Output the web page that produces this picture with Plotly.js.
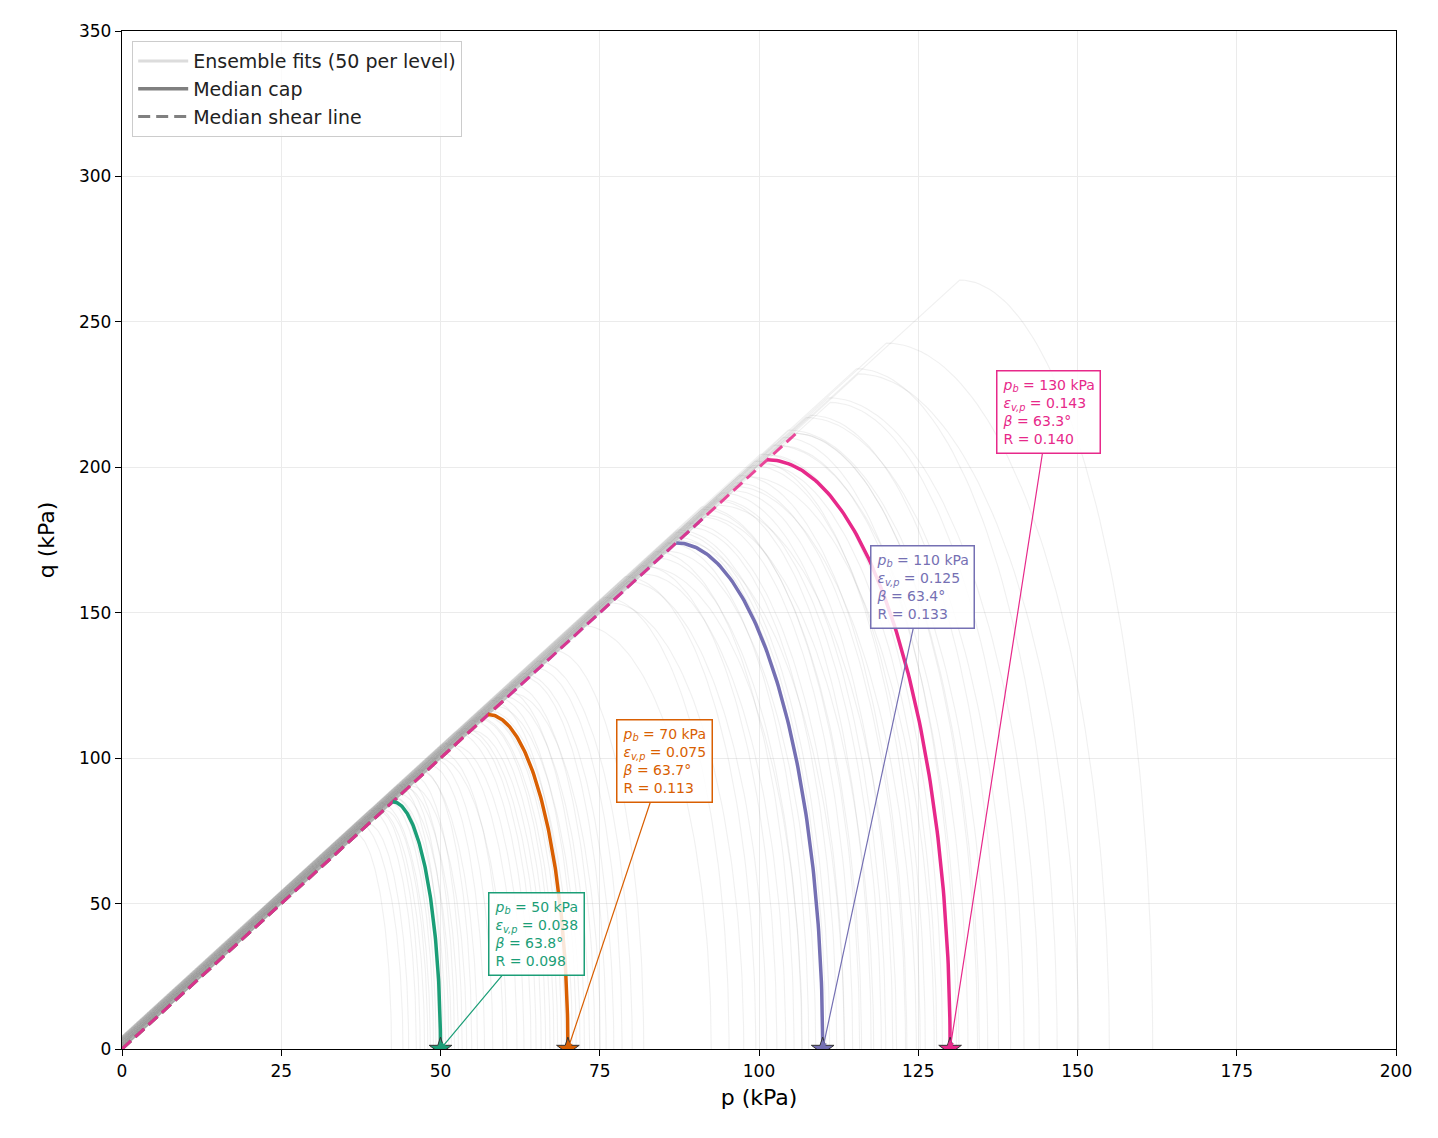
<!DOCTYPE html>
<html>
<head>
<meta charset="utf-8">
<script src="https://cdn.plot.ly/plotly-3.0.1.min.js"></script>
<style>
  html, body { margin: 0; padding: 0; background: #fff; }
  #plot { width: 1438px; height: 1138px; }
</style>
</head>
<body>
<div id="plot"></div>
<script>
// confining pressure levels and their median fits
const levels = [50, 70, 110, 130]
const levelColors = ["#1b9e77", "#d95f02", "#7570b3", "#e7298a"]
const medianApexP = [42.5, 57.5, 87.0, 101.3]
const medianApexQ = [85.0, 115.0, 174.0, 202.6]
const shearEndP = [44.6, 60.4, 91.4, 106.4]
const shearSlope = 2.0

// annotation values
const epsVp = ["0.038", "0.075", "0.125", "0.143"]
const betaDeg = ["63.8", "63.7", "63.4", "63.3"]
const rVals = ["0.098", "0.113", "0.133", "0.140"]
const boxP = [65.1, 85.1, 125.6, 145.5]
const boxQ = [39.5, 99.0, 158.8, 219.0]

// ensemble members: end of cap (pb) and apex p, per level
const ensPb50 = [42.3, 44.1, 45.0, 46.2, 46.8, 47.5, 48.0, 48.4, 48.9, 49.3, 49.7, 50.1, 50.4, 50.8, 51.3, 51.7, 52.2, 52.8, 53.4, 54.1, 54.9, 55.8, 56.9, 58.2, 59.8]
const ensApex50 = [36.5, 37.0, 38.6, 38.9, 40.1, 40.0, 41.2, 40.6, 41.8, 42.0, 42.9, 41.9, 43.3, 42.7, 44.0, 43.5, 44.6, 44.2, 45.8, 45.3, 46.9, 46.4, 48.3, 48.7, 50.2]
const ensPb70 = [60.4, 62.0, 63.1, 64.2, 65.0, 65.8, 66.5, 67.2, 67.8, 68.4, 69.0, 69.6, 70.1, 70.7, 71.3, 71.9, 72.6, 73.4, 74.2, 75.1, 76.0, 77.2, 78.5, 80.1, 81.9]
const ensApex70 = [49.5, 50.6, 52.1, 52.3, 53.6, 53.7, 54.9, 54.8, 56.0, 55.8, 57.0, 56.7, 57.9, 57.6, 58.9, 58.6, 60.0, 59.8, 61.4, 61.2, 62.9, 62.9, 65.0, 65.3, 67.8]
const ensPb110 = [92.5, 95.3, 97.6, 99.5, 101.2, 102.8, 104.2, 105.5, 106.7, 107.8, 108.9, 110.0, 111.1, 112.2, 113.4, 114.7, 116.1, 117.6, 119.2, 121.0, 123.0, 125.3, 127.9, 131.0, 134.6]
const ensApex110 = [72.2, 75.7, 76.6, 79.0, 79.4, 81.7, 81.8, 83.8, 83.7, 85.7, 85.4, 87.0, 87.2, 89.1, 88.9, 91.1, 91.0, 93.4, 93.4, 96.0, 96.3, 99.4, 100.2, 103.8, 105.2]
const ensPb130 = [106.8, 110.5, 113.4, 115.8, 118.0, 119.9, 121.6, 123.2, 124.7, 126.1, 127.5, 128.8, 130.1, 131.4, 132.8, 134.3, 135.9, 137.6, 139.5, 141.6, 144.0, 146.8, 150.2, 155.0, 161.8]
const ensApex130 = [82.3, 86.9, 87.3, 91.0, 90.9, 94.2, 93.6, 96.9, 96.0, 99.0, 98.2, 101.2, 100.2, 103.2, 102.3, 105.5, 104.6, 108.1, 107.4, 111.2, 110.9, 115.3, 115.6, 120.0, 131.5]
// small intercept of each ensemble shear line (kPa)
const ensC = [1.2, 3.9, 0.2, 4.4, 1.9, 2.8, -0.3, 3.4, 1.5, 2.6, 0.4, 2.0, 4.1, 1.1, 3.0, 0.7, 3.6, 1.7, 2.3, -0.1, 2.1, 3.3, 0.9, 2.7, 1.4]

const ensPb = [ensPb50, ensPb70, ensPb110, ensPb130]
const ensApex = [ensApex50, ensApex70, ensApex110, ensApex130]

// elliptical cap from apex (pa, qa) down to (pb, 0)
function capCurve(pa, qa, pb, n = 120) {
    let x = []
    let y = []
    for (let i = 0; i <= n; i++) {
        let t = (Math.PI / 2) * i / n
        x.push(pa + (pb - pa) * Math.sin(t))
        y.push(qa * Math.cos(t))
    }
    return {x: x, y: y}
}

let traces = []

// ensemble fits
for (let l = 0; l < levels.length; l++) {
    for (let k = 0; k < ensPb[l].length; k++) {
        let pa = ensApex[l][k]
        let c = ensC[k]
        let qa = c + shearSlope * pa
        let cap = capCurve(pa, qa, ensPb[l][k], 60)
        traces.push({
            type: "scatter",
            mode: "lines",
            x: [0].concat(cap.x),
            y: [Math.max(c, 0)].concat(cap.y),
            line: {color: "rgba(150, 150, 150, 0.14)", width: 1.1},
            hoverinfo: "skip",
            showlegend: false
        })
    }
}

// median shear lines
for (let l = 0; l < levels.length; l++) {
    traces.push({
        type: "scatter",
        mode: "lines",
        x: [0, shearEndP[l]],
        y: [0, shearSlope * shearEndP[l]],
        line: {color: levelColors[l], width: 3, dash: "12px,6px"},
        opacity: 0.85,
        showlegend: false
    })
}

// median caps
for (let l = 0; l < levels.length; l++) {
    let cap = capCurve(medianApexP[l], medianApexQ[l], levels[l])
    traces.push({
        type: "scatter",
        mode: "lines",
        x: cap.x,
        y: cap.y,
        line: {color: levelColors[l], width: 3.5},
        showlegend: false
    })
}

// stars at pb
traces.push({
    type: "scatter",
    mode: "markers",
    x: levels,
    y: levels.map(() => 0),
    marker: {
        symbol: "star",
        size: 17,
        color: levelColors,
        line: {color: "#333", width: 1}
    },
    cliponaxis: true,
    showlegend: false
})

// legend entries
traces.push({
    type: "scatter", mode: "lines", x: [null], y: [null],
    name: "Ensemble fits (50 per level)",
    line: {color: "#dcdcdc", width: 3}
})
traces.push({
    type: "scatter", mode: "lines", x: [null], y: [null],
    name: "Median cap",
    line: {color: "#808080", width: 3.5}
})
traces.push({
    type: "scatter", mode: "lines", x: [null], y: [null],
    name: "Median shear line",
    line: {color: "#808080", width: 3, dash: "12px,6px"}
})

let annotations = []
for (let l = 0; l < levels.length; l++) {
    annotations.push({
        x: levels[l], y: 0,
        xref: "x", yref: "y",
        ax: boxP[l], ay: boxQ[l],
        axref: "x", ayref: "y",
        text: "<i>p</i><sub><i>b</i></sub> = " + levels[l] + " kPa<br>" +
              "<i>ε</i><sub><i>v,p</i></sub> = " + epsVp[l] + "<br>" +
              "<i>β</i> = " + betaDeg[l] + "°<br>" +
              "R = " + rVals[l],
        align: "left",
        font: {family: "DejaVu Sans", size: 14, color: levelColors[l]},
        bgcolor: "rgba(255, 255, 255, 0.85)",
        bordercolor: levelColors[l],
        borderwidth: 1.5,
        borderpad: 5,
        showarrow: true,
        arrowhead: 2,
        arrowsize: 1,
        arrowwidth: 1.2,
        arrowcolor: levelColors[l]
    })
}

let layout = {
    width: 1438,
    height: 1138,
    margin: {l: 122, r: 42, t: 31, b: 89},
    paper_bgcolor: "#fff",
    plot_bgcolor: "#fff",
    font: {family: "DejaVu Sans", size: 17, color: "#000"},
    showlegend: true,
    legend: {
        x: 0.008, y: 0.99,
        xanchor: "left", yanchor: "top",
        bgcolor: "rgba(255, 255, 255, 0.8)",
        bordercolor: "#cccccc",
        borderwidth: 1,
        itemwidth: 50,
        font: {size: 19, color: "#222"},
        tracegroupgap: 0
    },
    xaxis: {
        range: [0, 200],
        tick0: 0, dtick: 25,
        showgrid: true, gridcolor: "#ebebeb", gridwidth: 1,
        zeroline: false,
        showline: true, linecolor: "#000", linewidth: 1.2, mirror: true,
        ticks: "outside", ticklen: 6, tickcolor: "#000",
        title: {text: "p (kPa)", font: {size: 22}, standoff: 10}
    },
    yaxis: {
        range: [0, 350],
        tick0: 0, dtick: 50,
        showgrid: true, gridcolor: "#ebebeb", gridwidth: 1,
        zeroline: false,
        showline: true, linecolor: "#000", linewidth: 1.2, mirror: true,
        ticks: "outside", ticklen: 6, tickcolor: "#000",
        title: {text: "q (kPa)", font: {size: 22}, standoff: 18}
    },
    annotations: annotations
}

Plotly.newPlot("plot", traces, layout, {displayModeBar: false, staticPlot: true})
</script>
</body>
</html>
